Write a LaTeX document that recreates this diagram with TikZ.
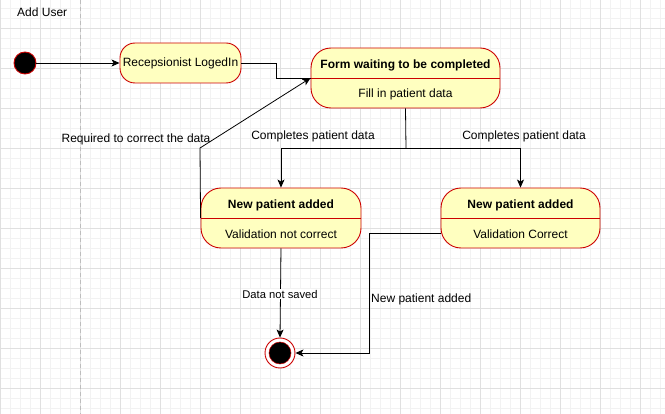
\documentclass[tikz,border=0pt]{standalone}
\usepackage{fontspec}
\setmainfont{Liberation Sans}
\usetikzlibrary{arrows.meta}
\definecolor{stc}{HTML}{CC0000}
\definecolor{fillc}{HTML}{FFFFC0}
\definecolor{gridminor}{HTML}{F2F2F2}
\definecolor{gridmajor}{HTML}{E0E0E0}
\definecolor{lanec}{HTML}{BDBDBD}
\begin{document}
\begin{tikzpicture}[x=1pt,y=-1pt,
  statebox/.style={draw=stc, fill=fillc, line width=0.9pt, inner sep=0pt},
  txt/.style={font=\fontsize{12}{14}\selectfont, inner sep=0pt, text=black},
  ttl/.style={font=\fontsize{12}{14}\selectfont\bfseries, inner sep=0pt, text=black},
  lbl/.style={font=\fontsize{12}{14}\selectfont, inner sep=1pt, text=black},
  conn/.style={line width=0.8pt, draw=black},
  arr/.style={conn, -{Stealth[length=8pt,width=7pt,inset=2pt]}},
  divider/.style={draw=stc, line width=0.9pt}]
\useasboundingbox (0,0) rectangle (665,414);
\fill[white] (0,0) rectangle (665,414);
% grid
\foreach \x in {0,10,...,660} \draw[gridminor, line width=0.6pt] (\x,0) -- (\x,414);
\foreach \y in {8,18,...,408} \draw[gridminor, line width=0.6pt] (0,\y) -- (665,\y);
\foreach \x in {0,40,...,640} \draw[gridmajor, line width=0.7pt] (\x,0) -- (\x,414);
\foreach \y in {28,68,...,388} \draw[gridmajor, line width=0.7pt] (0,\y) -- (665,\y);
% swimlane
\draw[lanec, line width=0.8pt, dash pattern=on 4pt off 3pt] (80,0) -- (80,414);
\node[txt, anchor=west] (lane) at (17,12) {Add User};

% initial state
\node[circle, draw=stc, fill=black, line width=0.9pt, minimum size=22pt, inner sep=0pt] (init) at (25,63) {};
% Recepsionist
\node[statebox, rounded corners=15pt, minimum width=121pt, minimum height=40pt] (recep) at (180.5,63) {};
\node[txt] (recept) at (recep.center) {Recepsionist LogedIn};
% Form
\node[statebox, rounded corners=20pt, minimum width=189pt, minimum height=60pt] (form) at (405.5,78) {};
\draw[divider] (form.west) -- (form.east);
\node[ttl] (formt) at (405.5,65) {Form waiting to be completed};
\node[txt] (forms) at (405.5,94) {Fill in patient data};
% left state
\node[statebox, rounded corners=20pt, minimum width=160pt, minimum height=60pt] (left) at (281,218) {};
\draw[divider] (left.west) -- (left.east);
\node[ttl] (leftt) at (281,205) {New patient added};
\node[txt] (lefts) at (281,234) {Validation not correct};
% right state
\node[statebox, rounded corners=20pt, minimum width=159pt, minimum height=60pt] (right) at (520.5,218) {};
\draw[divider] (right.west) -- (right.east);
\node[ttl] (rightt) at (520.5,205) {New patient added};
\node[txt] (rights) at (520.5,234) {Validation Correct};
% final state
\node[circle, draw=stc, fill=white, line width=0.9pt, minimum size=30pt, inner sep=0pt] (final) at (280,353) {};
\node[circle, draw=stc, fill=black, line width=0.5pt, minimum size=22pt, inner sep=0pt] (finalin) at (280,353) {};

% coordinates
\coordinate (rw) at (441,233);
\coordinate (forkc) at (406,148);

% connectors
\draw[arr] (init) -- (recep.west);
\draw[conn] (recep.east) -- (276,63) -- (276,78) -- (form.west);
\draw[arr] (left.west) -- (200,148) -- (form.west);
\draw[conn] (form.south) -- (forkc);
\draw[arr] (forkc) -| (left.north);
\draw[arr] (forkc) -| (right.north);
\draw[arr] (left.south) -- (final.north);
\draw[arr] (rw) -- (369,233) |- (final.east);

% labels
\node[lbl] (l1) at (313,136) {Completes patient data};
\node[lbl] (l2) at (524,136) {Completes patient data};
\node[lbl] (l3) at (136,139) {Required to correct the data};
\node[lbl, fill=white, font=\fontsize{11.2}{13}\selectfont] (l4) at (280,294) {Data not saved};
\node[lbl, anchor=west] (l5) at (370,299) {New patient added};
\end{tikzpicture}
\end{document}
